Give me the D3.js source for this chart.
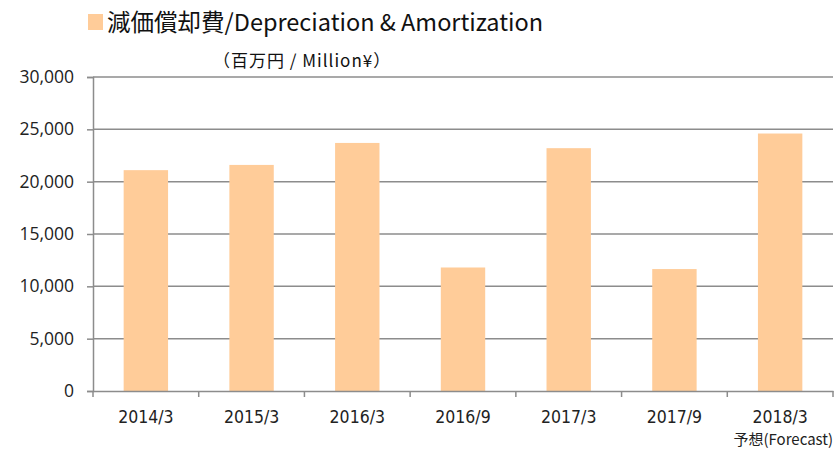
<!DOCTYPE html>
<html>
<head>
<meta charset="utf-8">
<script src="https://cdn.jsdelivr.net/npm/d3@7"></script>
<style>
  body { margin: 0; background: #fff; }
  svg { display: block; }
</style>
</head>
<body>
<div id="chart"></div>
<script>
// data
var categories = ["2014/3", "2015/3", "2016/3", "2016/9", "2017/3", "2017/9", "2018/3"];
var values = [21100, 21600, 23700, 11800, 23200, 11650, 24600];
var yTicks = [0, 5000, 10000, 15000, 20000, 25000, 30000];

var width = 837, height = 450;
var margin = { left: 93, right: 4, top: 77, bottom: 59 };
var barColor = "#FFCC99";
var gridColor = "#8c8c8c";

var svg = d3.select("#chart").append("svg")
    .attr("width", width)
    .attr("height", height);

var xScale = d3.scaleBand()
    .domain(categories)
    .range([margin.left, width - margin.right])
    .paddingInner(0.58)
    .paddingOuter(0.29);

var yScale = d3.scaleLinear()
    .domain([0, 30000])
    .range([height - margin.bottom, margin.top]);

// gridlines
svg.append("g")
    .selectAll("line")
    .data(yTicks.filter(function(d) { return d > 0; }))
   .enter()
    .append("line")
    .attr("x1", margin.left)
    .attr("x2", width - margin.right)
    .attr("y1", function(d) { return yScale(d); })
    .attr("y2", function(d) { return yScale(d); })
    .style("stroke", gridColor)
    .style("stroke-width", 1.5);

// bars
svg.selectAll(".bar")
    .data(values)
   .enter()
    .append("rect")
    .attr("class", "bar")
    .attr("x", function(d, i) { return xScale(categories[i]); })
    .attr("width", xScale.bandwidth())
    .attr("y", function(d) { return yScale(d); })
    .attr("height", function(d) { return yScale(0) - yScale(d); })
    .style("fill", barColor);

// y axis
var yAxis = d3.axisLeft(yScale)
    .tickValues(yTicks)
    .tickSize(6)
    .tickPadding(13)
    .tickFormat(d3.format(","));

var gy = svg.append("g")
    .attr("transform", "translate(" + margin.left + ",0)")
    .call(yAxis);
gy.select(".domain").style("stroke", gridColor).style("stroke-width", 1.5);
gy.selectAll(".tick line").style("stroke", gridColor).style("stroke-width", 1.5);
gy.selectAll("text")
    .style("font-family", "'Open Sans', 'Liberation Sans', sans-serif")
    .style("font-size", "17.5px")
    .style("fill", "#222");

// x axis, ticks on category boundaries
var xAxis = d3.axisBottom(xScale)
    .tickSize(0)
    .tickPadding(20);

var gx = svg.append("g")
    .attr("transform", "translate(0," + yScale(0) + ")")
    .call(xAxis);
gx.select(".domain").style("stroke", gridColor).style("stroke-width", 1.5);
gx.selectAll("text")
    .style("font-family", "'DejaVu Sans Condensed', 'DejaVu Sans', sans-serif")
    .style("font-stretch", "condensed")
    .style("font-size", "17.5px")
    .style("fill", "#222");

var step = xScale.step();
var bounds = d3.range(categories.length + 1).map(function(i) {
  return margin.left + i * step;
});
gx.selectAll(".bound")
    .data(bounds)
   .enter()
    .append("line")
    .attr("class", "bound")
    .attr("x1", function(d) { return d; })
    .attr("x2", function(d) { return d; })
    .attr("y1", 0)
    .attr("y2", 6)
    .style("stroke", gridColor)
    .style("stroke-width", 1.5);

// forecast note under last label
svg.append("text")
    .attr("x", width - 4)
    .attr("y", 445)
    .attr("text-anchor", "end")
    .style("font-family", "'Noto Sans CJK JP', sans-serif")
    .style("font-size", "15px")
    .style("fill", "#222")
    .text("予想(Forecast)");

// title
svg.append("rect")
    .attr("x", 88)
    .attr("y", 14)
    .attr("width", 15)
    .attr("height", 16)
    .style("fill", barColor);

svg.append("text")
    .attr("x", 107)
    .attr("y", 31)
    .style("font-family", "'Noto Sans CJK JP', 'Open Sans', sans-serif")
    .style("font-size", "23.5px")
    .style("fill", "#111")
    .text("減価償却費/Depreciation & Amortization");

svg.append("text")
    .attr("x", 213)
    .attr("y", 67)
    .style("font-family", "'Noto Sans CJK JP', 'Open Sans', sans-serif")
    .style("font-size", "17px")
    .style("letter-spacing", "1px")
    .style("fill", "#111")
    .text("（百万円 / Million¥）");
</script>
</body>
</html>
